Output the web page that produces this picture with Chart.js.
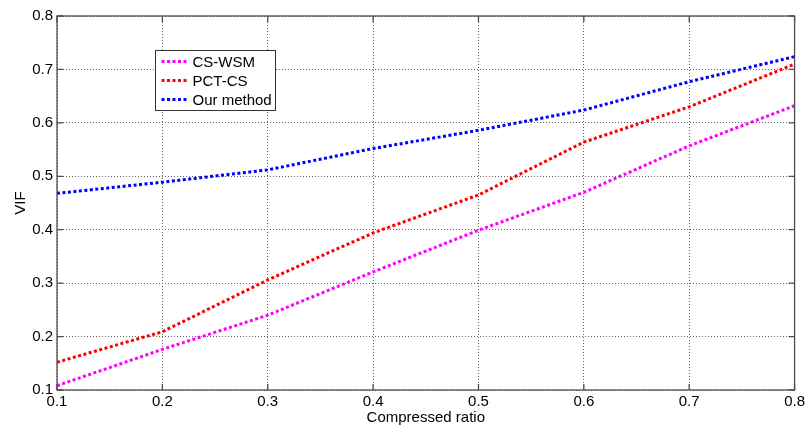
<!DOCTYPE html>
<html>
<head>
<meta charset="utf-8">
<script src="https://cdn.jsdelivr.net/npm/chart.js@4"></script>
<style>
  html, body { margin: 0; padding: 0; background: #fff; }
  #wrap { width: 808px; height: 427px; }
</style>
</head>
<body>
<div id="wrap"><canvas id="vifChart" width="808" height="427"></canvas></div>
<script>
// Data
const ratios = [0.1, 0.2, 0.3, 0.4, 0.5, 0.6, 0.7, 0.8];
const csWsm = [0.108, 0.176, 0.240, 0.321, 0.399, 0.470, 0.557, 0.632];
const pctCs = [0.152, 0.209, 0.306, 0.394, 0.465, 0.564, 0.630, 0.710];
const ourMethod = [0.468, 0.489, 0.512, 0.552, 0.586, 0.624, 0.677, 0.724];
const seriesLabels = ["CS-WSM", "PCT-CS", "Our method"];
const seriesColors = ["#ff00ff", "#ff0000", "#0000ff"];

const FONT = "'Liberation Sans', Arial, sans-serif";
const axisColor = "#4d4d4d";

const toPoints = (vals) => vals.map((v, i) => ({ x: ratios[i], y: v }));

// box, inward ticks and legend drawn like a MATLAB figure
const boxPlugin = {
  id: "boxPlugin",
  afterDraw(chart) {
    const { ctx, chartArea: a, scales } = chart;
    ctx.save();
    ctx.strokeStyle = axisColor;
    ctx.lineWidth = 1.3;
    ctx.strokeRect(a.left, a.top, a.right - a.left, a.bottom - a.top);
    const tl = 6;
    ctx.beginPath();
    scales.x.ticks.forEach((t) => {
      const x = scales.x.getPixelForValue(t.value);
      ctx.moveTo(x, a.bottom); ctx.lineTo(x, a.bottom - tl);
      ctx.moveTo(x, a.top); ctx.lineTo(x, a.top + tl);
    });
    scales.y.ticks.forEach((t) => {
      const y = scales.y.getPixelForValue(t.value);
      ctx.moveTo(a.left, y); ctx.lineTo(a.left + tl, y);
      ctx.moveTo(a.right, y); ctx.lineTo(a.right - tl, y);
    });
    ctx.stroke();

    // legend
    const lx = a.left + 98.5, ly = a.top + 34.5, lw = 120, lh = 60;
    ctx.fillStyle = "#fff";
    ctx.fillRect(lx, ly, lw, lh);
    ctx.strokeStyle = "#333";
    ctx.lineWidth = 1;
    ctx.strokeRect(lx, ly, lw, lh);
    ctx.font = "15px " + FONT;
    ctx.textBaseline = "middle";
    chart.data.datasets.forEach((ds, i) => {
      const y = ly + 11 + i * 19;
      ctx.strokeStyle = ds.borderColor;
      ctx.lineWidth = 3;
      ctx.setLineDash(ds.borderDash);
      ctx.beginPath();
      ctx.moveTo(lx + 6, y); ctx.lineTo(lx + 31, y);
      ctx.stroke();
      ctx.setLineDash([]);
      ctx.fillStyle = "#000";
      ctx.fillText(ds.label, lx + 37, y + 1);
    });
    ctx.restore();
  },
};

const series = [csWsm, pctCs, ourMethod];
const ctx = document.getElementById("vifChart").getContext("2d");
const vifChart = new Chart(ctx, {
  type: "line",
  data: {
    datasets: series.map((vals, i) => ({
      label: seriesLabels[i],
      data: toPoints(vals),
      borderColor: seriesColors[i],
      borderWidth: 3,
      borderDash: [3, 2.5],
      pointRadius: 0,
      fill: false,
      tension: 0,
    })),
  },
  options: {
    responsive: false,
    animation: false,
    layout: { padding: { top: 16, right: 11, left: 0, bottom: 0 } },
    plugins: { legend: { display: false }, tooltip: { enabled: false } },
    scales: {
      x: {
        type: "linear",
        min: 0.1,
        max: 0.8,
        afterFit(scale) { scale.height = 37; },
        ticks: {
          stepSize: 0.1,
          padding: 3,
          color: "#000",
          font: { family: FONT, size: 15 },
          callback: (v) => v.toFixed(1),
        },
        grid: { color: "#666", lineWidth: 1, drawTicks: false },
        border: { display: false, dash: [1, 2] },
        title: {
          display: true,
          text: "Compressed ratio",
          color: "#000",
          font: { family: FONT, size: 15 },
          padding: { top: 0, bottom: 0 },
        },
      },
      y: {
        min: 0.1,
        max: 0.8,
        afterFit(scale) { scale.width = 57; },
        ticks: {
          stepSize: 0.1,
          padding: 4,
          color: "#000",
          font: { family: FONT, size: 15 },
          callback: (v) => v.toFixed(1),
        },
        grid: { color: "#666", lineWidth: 1, drawTicks: false },
        border: { display: false, dash: [1, 2] },
        title: {
          display: true,
          text: "VIF",
          color: "#000",
          font: { family: FONT, size: 15 },
          padding: { top: 12, bottom: 0 },
        },
      },
    },
  },
  plugins: [boxPlugin],
});
</script>
</body>
</html>
